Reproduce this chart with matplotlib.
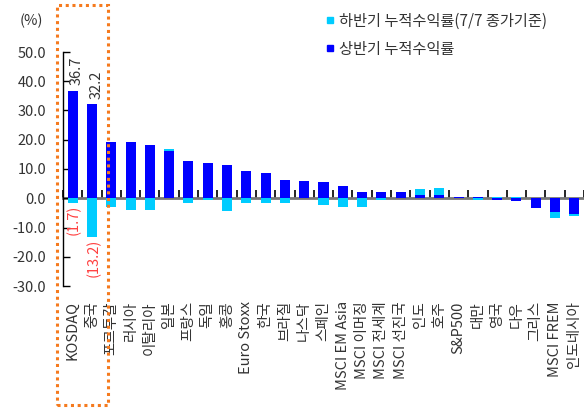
import matplotlib
matplotlib.use("Agg")
import matplotlib.pyplot as plt
import numpy as np
from matplotlib.lines import Line2D
from matplotlib.patches import Rectangle

plt.rcParams["font.family"] = ["Noto Sans CJK KR", "DejaVu Sans"]

categories = ["KOSDAQ", "중국", "포르투갈", "러시아", "이탈리아", "일본", "프랑스", "독일",
              "홍콩", "Euro Stoxx", "한국", "브라질", "나스닥", "스페인", "MSCI EM Asia",
              "MSCI 이머징", "MSCI 전세계", "MSCI 선진국", "인도", "호주", "S&P500", "대만",
              "영국", "다우", "그리스", "MSCI FREM", "인도네시아"]
first_half = [36.7, 32.2, 19.3, 19.3, 18.3, 16.3, 12.6, 11.9, 11.5, 9.2, 8.5, 6.4, 5.8, 5.4,
              4.1, 2.0, 2.0, 2.0, 1.2, 1.0, 0.5, 0.5, -0.7, -1.1, -3.4, -4.8, -5.4]
second_half = [-1.7, -13.2, -2.9, -4.0, -4.0, 0.7, -1.6, -0.6, -4.3, -1.6, -1.6, -1.6, 0.0, -2.4,
               -3.1, -3.1, -0.7, 0.0, 1.8, 2.4, 0.0, -0.6, 0.5, 0.5, 0.0, -2.0, -0.7]
highlight = [0, 1]  # categories with value labels
legend_labels = ["하반기 누적수익률(7/7 종가기준)", "상반기 누적수익률"]
yticks = [-30, -20, -10, 0, 10, 20, 30, 40, 50]

BLUE = "#0000FF"
CYAN = "#00CCFF"
GREY = "#333333"

first = np.array(first_half)
second = np.array(second_half)
x = np.arange(len(categories))
# positive and negative parts stack separately, like Excel
bottom = np.where(np.sign(first) == np.sign(second), first, 0.0)

fig = plt.figure(figsize=(5.84, 4.08), dpi=100)
ax = fig.add_axes([63 / 584, 122 / 408, 521 / 584, 234 / 408])

ax.bar(x, first, width=0.52, color=BLUE, zorder=2)
ax.bar(x, second, width=0.52, bottom=bottom, color=CYAN, zorder=2)

ax.set_xlim(-0.5, len(categories) - 0.5)
ax.set_ylim(yticks[0], yticks[-1])
ax.set_yticks(yticks)
ax.set_yticklabels([f"{t:.1f}" for t in yticks])
ax.tick_params(axis="y", direction="in", length=5, width=1, colors="black",
               labelcolor=GREY, labelsize=10.5, pad=12)

ax.set_xticks(x)
ax.set_xticklabels(categories, rotation=90, va="top", ha="center", fontsize=10.5, color=GREY)
ax.tick_params(axis="x", length=0, pad=11)

for side in ["top", "right", "bottom"]:
    ax.spines[side].set_visible(False)
ax.spines["left"].set_linewidth(1)

# zero line with boundary ticks
zero = ax.secondary_xaxis(-yticks[0] / (yticks[-1] - yticks[0]))
zero.set_xticks(np.arange(len(categories) + 1) - 0.5)
zero.set_xticklabels([])
zero.tick_params(direction="in", length=6, width=1.2, colors="black")
zero.spines["bottom"].set_color("#777777")
zero.spines["bottom"].set_linewidth(2)

for i in highlight:
    ax.annotate(f"{first[i]:.1f}", xy=(x[i], first[i]), xytext=(3, 4),
                textcoords="offset points", rotation=90, ha="center", va="bottom",
                fontsize=10.5, color=GREY)
    ax.annotate(f"({abs(second[i]):.1f})", xy=(x[i], bottom[i] + second[i]), xytext=(1, -1),
                textcoords="offset points", rotation=90, ha="center", va="top",
                fontsize=10.5, color="#FF4040")

fig.text(31 / 584, 1 - 21 / 408, "(%)", ha="center", va="center", fontsize=10.5, color=GREY)

handles = [Line2D([], [], marker="s", linestyle="", color=CYAN, markersize=5),
           Line2D([], [], marker="s", linestyle="", color=BLUE, markersize=5)]
fig.legend(handles, legend_labels, loc="upper left", bbox_to_anchor=(318 / 584, 1 - 5 / 408),
           frameon=False, fontsize=11, handlelength=0.6, handletextpad=0.3,
           labelspacing=0.72, borderpad=0, labelcolor=GREY)

fig.patches.append(Rectangle((57 / 584, 3 / 408), 51 / 584, 400 / 408, transform=fig.transFigure,
                             fill=False, edgecolor="#F57A1E", linewidth=2.2, linestyle=(0, (1, 1.2))))

fig.savefig("out.png", dpi=100)
